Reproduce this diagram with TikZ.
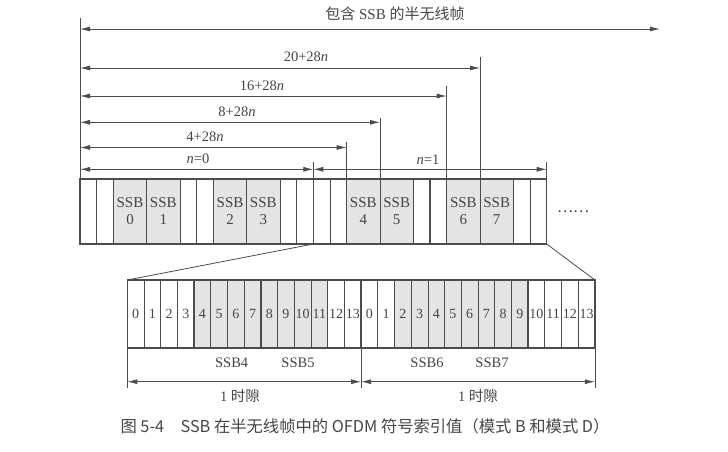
\documentclass[tikz,border=0pt]{standalone}
\usepackage{fontspec}
\setmainfont{Liberation Serif}
\newfontfamily\cjk{Noto Sans CJK SC}
\usetikzlibrary{arrows.meta,calc}
\definecolor{ln}{HTML}{4c4c4c}
\definecolor{tx}{HTML}{454545}
\definecolor{sh}{HTML}{e4e4e4}
\begin{document}
\begin{tikzpicture}[x=1pt,y=-1pt,
  dim/.style={draw=ln, line width=0.8pt, {Latex[length=10pt,width=5pt]}-{Latex[length=10pt,width=5pt]}},
  rdim/.style={draw=ln, line width=0.8pt, -{Latex[length=10pt,width=5pt]}},
  tick/.style={draw=ln, line width=0.8pt},
  thick line/.style={draw=ln, line width=1.4pt},
  lab/.style={text=tx, font=\fontsize{14.5}{14.5}\selectfont, inner sep=0pt},
  tcell/.style={draw=ln, line width=0.8pt, minimum height=65pt, inner sep=0pt, outer sep=0pt, anchor=north west, text=tx, font=\fontsize{15}{18}\selectfont, align=center},
  bcell/.style={draw=ln, line width=0.8pt, minimum height=68pt, minimum width=16.7pt, inner sep=0pt, outer sep=0pt, anchor=north west, text=tx, font=\fontsize{14}{14}\selectfont},
]
\useasboundingbox (0,0) rectangle (728,451);
% ---- top row ----
\foreach \k in {0,1,6,7,12,13,14,15,20,21,26,27}
  \node[tcell, minimum width=16.667pt] (t\k) at (80+\k*16.667,179) {};
\foreach \k/\l in {2/0,4/1,8/2,10/3,16/4,18/5,22/6,24/7}
  \node[tcell, minimum width=33.333pt, fill=sh] (t\k) at (80+\k*16.667,179) {SSB\\[-1pt]\l};
\draw[thick line] (t0.north west) rectangle (t27.south east);
\foreach \k in {7,14,21}
  \draw[thick line] (t\k.north west) -- (t\k.south west);
\node[text=tx, font=\cjk\fontsize{15}{15}\selectfont, inner sep=0pt] (dots) at (573,212) {……};
% ---- bottom row ----
\foreach \k in {0,...,27}{
  \pgfmathtruncatemacro{\m}{mod(\k,14)}
  \pgfmathtruncatemacro{\sh}{(\m>3 && \m<12 && \k<14) || (\m>1 && \m<10 && \k>13) ? 1 : 0}
  \ifnum\sh=1
    \node[bcell, fill=sh] (b\k) at (127.3+\k*16.7,280) {\m};
  \else
    \node[bcell] (b\k) at (127.3+\k*16.7,280) {\m};
  \fi
}
\draw[thick line] (b0.north west) rectangle (b27.south east);
\foreach \k in {4,8,12,14,16,20,24}
  \draw[thick line] (b\k.north west) -- (b\k.south west);
% zoom lines
\draw[tick] (t14.south west) -- (b0.north west);
\draw[tick] (t27.south east) -- (b27.north east);
% ---- top dimensions ----
\coordinate (L) at (t0.north west |- 0,18);
\draw[tick] (L) -- (t0.north west);
\coordinate (e0) at (660,29);
\coordinate (s0) at (t0.north west |- e0);
\draw[dim] (s0) -- (e0);
\node[lab, font=\fontsize{15}{15}\selectfont] (l0) at (395,14) {{\cjk 包含} SSB {\cjk 的半无线帧}};
% 20+28n
\coordinate (v20) at (t24.north west |- 0,56.7);
\draw[tick] (v20) -- (t24.north west);
\coordinate (s20) at (t0.north west |- 0,68);
\draw[dim] (s20) -- (s20 -| v20);
\node[lab] (l20) at (306,57) {20+28\textit{n}};
% 16+28n
\coordinate (v16) at (t22.north west |- 0,86);
\draw[tick] (v16) -- (t22.north west);
\coordinate (s16) at (t0.north west |- 0,96);
\draw[dim] (s16) -- (s16 -| v16);
\node[lab] (l16) at (262,86) {16+28\textit{n}};
% 8+28n
\coordinate (v8) at (t18.north west |- 0,118.3);
\draw[tick] (v8) -- (t18.north west);
\coordinate (s8) at (t0.north west |- 0,122.3);
\draw[dim] (s8) -- (s8 -| v8);
\node[lab] (l8) at (237,111.5) {8+28\textit{n}};
% 4+28n
\coordinate (v4) at (t16.north west |- 0,141.7);
\draw[tick] (v4) -- (t16.north west);
\coordinate (s4) at (t0.north west |- 0,147.5);
\draw[dim] (s4) -- (s4 -| v4);
\node[lab] (l4) at (205,137) {4+28\textit{n}};
% n=0 / n=1
\coordinate (vm) at (t14.north west |- 0,161.7);
\draw[tick] (vm) -- (t14.north west);
\coordinate (vr) at (t27.north east |- 0,161.7);
\draw[tick] (vr) -- (t27.north east);
\coordinate (sn) at (t0.north west |- 0,169.3);
\draw[dim] (sn) -- (sn -| vm);
\draw[dim] (sn -| vm) -- (sn -| vr);
\node[lab] (ln0) at (198,159) {\textit{n}=0};
\node[lab] (ln1) at (428,159.5) {\textit{n}=1};
% ---- bottom labels & dimensions ----
\node[lab] (s4l) at (231.7,363) {SSB4};
\node[lab] (s5l) at (298,363) {SSB5};
\node[lab] (s6l) at (427,363) {SSB6};
\node[lab] (s7l) at (492,363) {SSB7};
\coordinate (d0) at (b0.south west |- 0,388);
\coordinate (d1) at (b14.south west |- 0,388);
\coordinate (d2) at (b27.south east |- 0,388);
\draw[tick] (b0.south west) -- (d0);
\draw[tick] (b14.south west) -- (d1);
\draw[tick] (b27.south east) -- (d2);
\coordinate (y0) at (0,381.7);
\draw[dim] (b0.south west |- y0) -- (b14.south west |- y0);
\draw[dim] (b14.south west |- y0) -- (b27.south east |- y0);
\node[lab] (sl1) at (240,395.5) {1 {\cjk 时隙}};
\node[lab] (sl2) at (478,395.5) {1 {\cjk 时隙}};
% ---- caption ----
\node[text=tx, font=\cjk\fontsize{16.3}{16.3}\selectfont, inner sep=0pt] (cap) at (365,426) {图 5-4\quad SSB 在半无线帧中的 OFDM 符号索引值（模式 B 和模式 D）};
\end{tikzpicture}
\end{document}
